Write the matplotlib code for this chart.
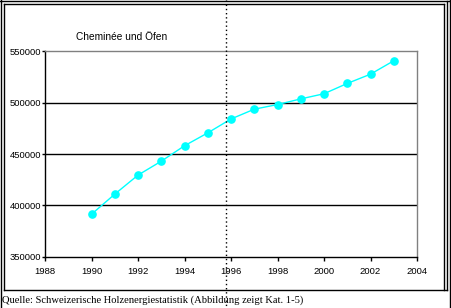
import matplotlib
matplotlib.use("Agg")
import matplotlib.pyplot as plt
from matplotlib.lines import Line2D

# data
years = [1990, 1991, 1992, 1993, 1994, 1995, 1996, 1997, 1998, 1999, 2000, 2001, 2002, 2003]
values = [391500, 411000, 429500, 443000, 458000, 470500, 484000, 493500, 498000, 503500,
          508500, 518500, 527500, 540500]
x_ticks = list(range(1988, 2005, 2))
y_ticks = [350000, 400000, 450000, 500000, 550000]
title = "Cheminée und Öfen"
source = "Quelle: Schweizerische Holzenergiestatistik (Abbildung zeigt Kat. 1-5)"

W, H = 451, 308
fig = plt.figure(figsize=(W / 100, H / 100), dpi=100)
fig.patch.set_facecolor("white")


def fx(x):
    return x / W


def fy(y):
    return 1 - y / H


def fline(xs, ys, **kw):
    fig.add_artist(Line2D([fx(v) for v in xs], [fy(v) for v in ys],
                          transform=fig.transFigure, **kw))


# plot area in pixels
left, right, top, bottom = 45, 417, 51, 257
ax = fig.add_axes([fx(left), fy(bottom), (right - left) / W, (bottom - top) / H])

ax.plot(years, values, color="#00FFFF", lw=1, marker="o", ms=5.2,
        mec="#00FFFF", mfc="#00FFFF", zorder=3)

ax.set_xlim(1988, 2004)
ax.set_ylim(350000, 550000)
ax.set_xticks(x_ticks)
ax.set_yticks(y_ticks)
ax.set_xticklabels([str(t) for t in x_ticks], fontsize=6.8, family="Liberation Sans")
ax.set_yticklabels([str(t) for t in y_ticks], fontsize=6.8, family="Liberation Sans")
ax.tick_params(axis="x", length=3, width=1, pad=4, direction="out")
ax.tick_params(axis="y", length=2.5, width=1, pad=0.5, direction="out")

for v in [400000, 450000, 500000]:
    ax.axhline(v, color="black", lw=1, zorder=1)

ax.spines["left"].set_color("black")
ax.spines["bottom"].set_color("black")
ax.spines["top"].set_color("#808080")
ax.spines["right"].set_color("#808080")
for s in ax.spines.values():
    s.set_linewidth(1)

fig.text(fx(76), fy(37), title, fontsize=7.3, family="Liberation Sans",
         va="center", ha="left")

# chart frame (double border look)
fline([1, 1], [0, H], color="black", lw=1)
fline([3.5, 3.5], [3.5, 290], color="black", lw=1)
fline([0, W], [1, 1], color="black", lw=1)
fline([3.5, 444], [3.5, 3.5], color="black", lw=1)
fline([444, 444], [3.5, 290], color="black", lw=1)
fline([446.5, 446.5], [1, 290], color="black", lw=1)
fline([3.5, 446.5], [290, 290], color="black", lw=1)
fline([450, 450], [0, H], color="black", lw=1)

# dotted vertical separator running through the whole image
fline([226, 226], [0, H], color="black", lw=1, linestyle=(0, (1, 2)))

fig.text(fx(2), fy(300), source, fontsize=7.6, family="Liberation Serif",
         va="center", ha="left")

fig.savefig("out.png", dpi=100)
